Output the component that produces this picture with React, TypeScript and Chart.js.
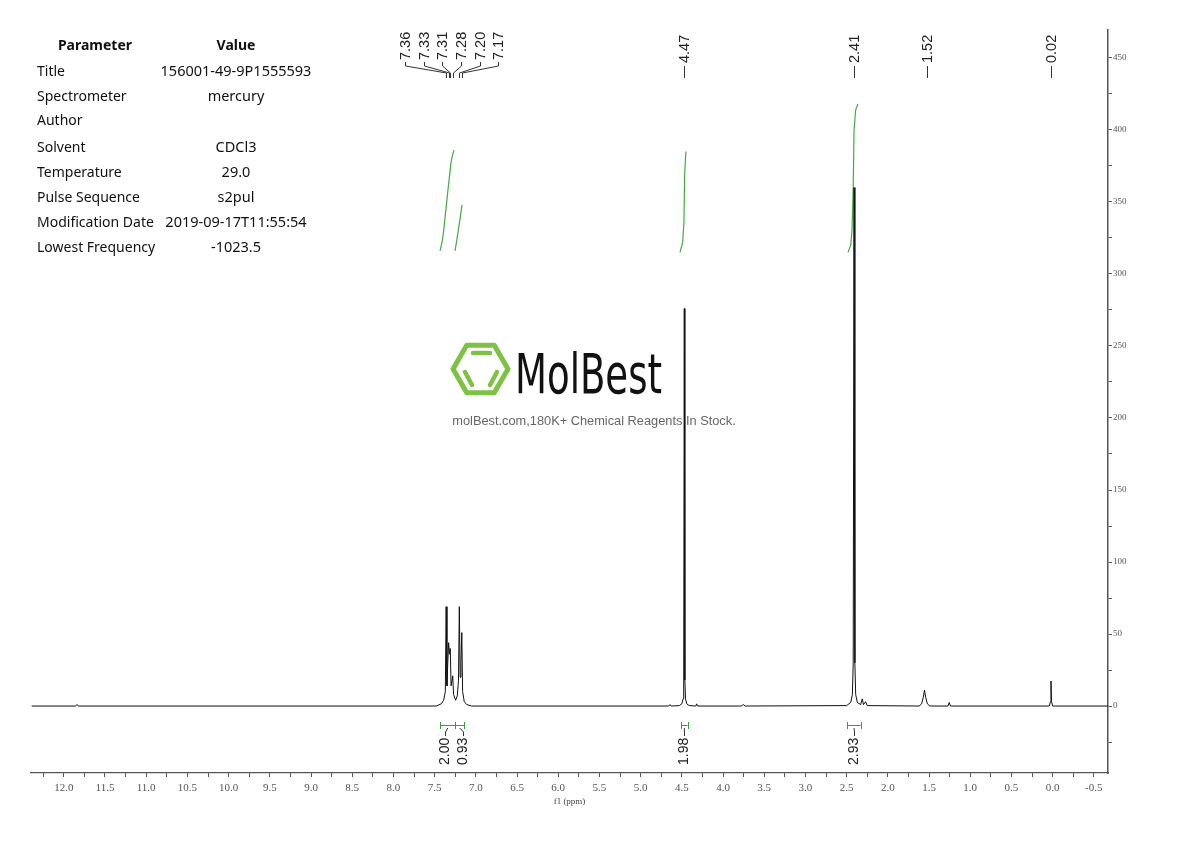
import React, { useEffect, useRef } from "react";
import { Chart, registerables } from "chart.js";

Chart.register(...registerables);

// ---------- data ----------
const spectrumPpm = [
  12.39, 11.86, 11.84, 11.82,
  7.48, 7.42, 7.39, 7.37, 7.36, 7.35, 7.34, 7.33, 7.32, 7.31, 7.3, 7.28, 7.27, 7.245, 7.225, 7.21, 7.2, 7.19, 7.18, 7.17, 7.16, 7.14, 7.11, 7.05,
  4.66, 4.645, 4.63,
  4.53, 4.5, 4.485, 4.477, 4.47, 4.463, 4.455, 4.44, 4.41,
  4.33, 4.32, 4.31,
  3.78, 3.755, 3.73,
  2.5, 2.45, 2.43, 2.42, 2.41, 2.4, 2.39, 2.37, 2.33, 2.31, 2.295, 2.27, 2.25,
  1.62, 1.59, 1.57, 1.555, 1.54, 1.52, 1.49,
  1.27, 1.255, 1.24,
  0.04, 0.027, 0.02, 0.013, 0.0,
  -0.672,
];
const spectrumIntensity = [
  0, 0, 1, 0,
  0, 1.5, 4, 10, 69, 14, 30, 44, 36, 40, 14, 21, 8, 4, 7, 18, 69, 20, 30, 51, 10, 3, 1, 0,
  0, 1, 0,
  0.3, 1.5, 5, 18, 276, 18, 5, 1.5, 0.3,
  0, 1.5, 0,
  0, 1, 0,
  0.3, 2.5, 8, 30, 360, 30, 8, 2.5, 1, 5, 1, 3, 0.3,
  0, 1.5, 6, 11, 6, 1.5, 0,
  0, 2.5, 0,
  0, 3, 17.4, 3, 0,
  0,
];

// integral curves (ppm, plotted height)
const integral1Ppm = [7.434, 7.41, 7.39, 7.35, 7.3, 7.28, 7.265];
const integral1Val = [316, 322, 330, 352, 378, 383, 386];
const integral2Ppm = [7.252, 7.235, 7.2, 7.18, 7.167];
const integral2Val = [316, 322, 335, 343, 348];
const integral3Ppm = [4.522, 4.49, 4.475, 4.465, 4.455, 4.449];
const integral3Val = [315, 322, 335, 370, 381, 385];
const integral4Ppm = [2.483, 2.45, 2.435, 2.42, 2.41, 2.39, 2.362];
const integral4Val = [315, 320, 330, 360, 400, 414, 418];

const integralFrom = [7.43, 7.25, 4.51, 2.49];
const integralTo = [7.25, 7.14, 4.43, 2.33];
const integralLabels = ["2.00", "0.93", "1.98", "2.93"];

const peakLabelValues = [7.36, 7.33, 7.31, 7.28, 7.2, 7.17, 4.47, 2.41, 1.52, 0.02];
const peakLabelTexts = ["7.36", "7.33", "7.31", "7.28", "7.20", "7.17", "4.47", "2.41", "1.52", "0.02"];

const xMin = -0.672;
const xMax = 12.398;
const yMin = -46.5;
const yMax = 469.4;

const paramNames = [
  "Title",
  "Spectrometer",
  "Author",
  "Solvent",
  "Temperature",
  "Pulse Sequence",
  "Modification Date",
  "Lowest Frequency",
];
const paramValues = [
  "156001-49-9P1555593",
  "mercury",
  "",
  "CDCl3",
  "29.0",
  "s2pul",
  "2019-09-17T11:55:54",
  "-1023.5",
];

const toPoints = (xs: number[], ys: number[]) => xs.map((x, i) => ({ x, y: ys[i] }));

function groupClose(px: number[], gap: number): number[][] {
  const groups: number[][] = [];
  px.forEach((p, i) => {
    const g = groups[groups.length - 1];
    if (g && Math.abs(px[g[g.length - 1]] - p) < gap) g.push(i);
    else groups.push([i]);
  });
  return groups;
}

function drawRot(ctx: CanvasRenderingContext2D, t: string, x: number, y: number) {
  ctx.save();
  ctx.translate(x, y);
  ctx.rotate(-Math.PI / 2);
  ctx.textAlign = "left";
  ctx.textBaseline = "middle";
  ctx.fillText(t, 0, 0);
  ctx.restore();
}

const annotPlugin = {
  id: "nmrAnnot",
  afterDraw(chart: any) {
    const ctx: CanvasRenderingContext2D = chart.ctx;
    const xs = chart.scales.x;
    ctx.save();
    // peak labels
    ctx.font = '14.5px "Liberation Sans", Arial, sans-serif';
    ctx.fillStyle = "#222";
    ctx.strokeStyle = "#333";
    ctx.lineWidth = 1;
    const px = peakLabelValues.map((v) => xs.getPixelForValue(v));
    groupClose(px, 20).forEach((g) => {
      const n = g.length;
      const centre = g.reduce((s, i) => s + px[i], 0) / n - 1.5;
      g.forEach((idx, k) => {
        const p = Math.round(px[idx]) + 0.5;
        if (n > 1) {
          const lx = Math.round(centre + (k - (n - 1) / 2) * 18.6) + 0.5;
          drawRot(ctx, peakLabelTexts[idx], lx, 60);
          ctx.beginPath();
          ctx.moveTo(lx, 62);
          ctx.lineTo(lx, 66);
          ctx.lineTo(p, 73);
          ctx.lineTo(p, 78);
          ctx.stroke();
        } else {
          drawRot(ctx, peakLabelTexts[idx], p, 63);
          ctx.beginPath();
          ctx.moveTo(p, 66);
          ctx.lineTo(p, 78);
          ctx.stroke();
        }
      });
    });

    // integration brackets and labels
    const x1 = integralFrom.map((v) => xs.getPixelForValue(v));
    const x2 = integralTo.map((v) => xs.getPixelForValue(v));
    const centres = x1.map((a, i) => (a + x2[i]) / 2);
    ctx.strokeStyle = "#3a9d3a";
    ctx.lineWidth = 1;
    x1.forEach((a, i) => {
      const b = x2[i];
      ctx.beginPath();
      ctx.moveTo(a, 725.5);
      ctx.lineTo(b, 725.5);
      ctx.moveTo(Math.round(a) + 0.5, 722);
      ctx.lineTo(Math.round(a) + 0.5, 729);
      ctx.moveTo(Math.round(b) + 0.5, 722);
      ctx.lineTo(Math.round(b) + 0.5, 729);
      ctx.stroke();
    });
    ctx.font = '14px "Liberation Sans", Arial, sans-serif';
    ctx.fillStyle = "#222";
    ctx.strokeStyle = "#333";
    groupClose(centres, 22).forEach((g) => {
      const n = g.length;
      const centre = g.reduce((s, i) => s + centres[i], 0) / n;
      g.forEach((idx, k) => {
        const c = centres[idx];
        const lx = Math.round(n > 1 ? centre + (k - (n - 1) / 2) * 18 : c) + 0.5;
        ctx.beginPath();
        ctx.moveTo(c, 728);
        ctx.lineTo(lx, 732);
        ctx.lineTo(lx, 736);
        ctx.stroke();
        drawRot(ctx, integralLabels[idx], lx, 765);
      });
    });
    ctx.restore();
  },
};

export default function App() {
  const ref = useRef<HTMLCanvasElement | null>(null);

  useEffect(() => {
    if (!ref.current) return;
    const green = "#45a845";
    const lineDs = (data: any[], color: string, width: number) => ({
      data,
      showLine: true,
      borderColor: color,
      borderWidth: width,
      pointRadius: 0,
      tension: 0,
      fill: false,
    });
    const chart = new Chart(ref.current, {
      type: "scatter",
      data: {
        datasets: [
          lineDs(toPoints(spectrumPpm, spectrumIntensity), "#111", 1),
          lineDs(toPoints(integral1Ppm, integral1Val), green, 1.2),
          lineDs(toPoints(integral2Ppm, integral2Val), green, 1.2),
          lineDs(toPoints(integral3Ppm, integral3Val), green, 1.2),
          lineDs(toPoints(integral4Ppm, integral4Val), green, 1.2),
        ],
      },
      options: {
        animation: false,
        responsive: false,
        maintainAspectRatio: false,
        layout: { padding: { left: 31, top: 30, right: 0, bottom: 0 } },
        plugins: { legend: { display: false }, tooltip: { enabled: false } },
        scales: {
          x: {
            type: "linear",
            reverse: true,
            min: xMin,
            max: xMax,
            position: "bottom",
            afterFit: (s: any) => {
              s.height = 68;
            },
            grid: { drawOnChartArea: false, drawTicks: true, tickLength: 4, color: "#555" },
            border: { color: "#555", width: 1.2 },
            ticks: {
              stepSize: 0.25,
              maxTicksLimit: 1000,
              includeBounds: false,
              autoSkip: false,
              maxRotation: 0,
              padding: 5,
              color: "#555",
              font: { family: '"Liberation Serif", serif', size: 11 },
              callback: (v: any) => {
                const n = Number(v);
                return Math.abs(n * 2 - Math.round(n * 2)) < 1e-6 ? n.toFixed(1) : "";
              },
            },
            title: {
              display: true,
              text: "f1 (ppm)",
              color: "#444",
              font: { family: '"Liberation Serif", serif', size: 9 },
              padding: { top: 0, bottom: 34 },
            },
          },
          y: {
            type: "linear",
            position: "right",
            min: yMin,
            max: yMax,
            afterFit: (s: any) => {
              s.width = 82;
            },
            grid: { drawOnChartArea: false, drawTicks: true, tickLength: 4, color: "#555" },
            border: { color: "#555", width: 1.5 },
            ticks: {
              stepSize: 25,
              maxTicksLimit: 1000,
              includeBounds: false,
              autoSkip: false,
              padding: 1,
              color: "#555",
              font: { family: '"Liberation Serif", serif', size: 9 },
              callback: (v: any) => {
                const n = Number(v);
                return Math.abs(n % 50) < 1e-6 ? String(Math.round(n)) : "";
              },
            },
          },
        },
      },
      plugins: [annotPlugin],
    } as any);
    return () => chart.destroy();
  }, []);

  const font = '"Noto Sans", "Open Sans", sans-serif';
  const rowStyle = (top: number): React.CSSProperties => ({
    position: "absolute",
    left: 0,
    top,
    width: 400,
    height: 22,
    display: "flex",
    alignItems: "baseline",
    fontFamily: font,
    color: "#111",
    whiteSpace: "nowrap",
    lineHeight: "22px",
  });

  return (
    <div style={{ position: "fixed", left: 0, top: 0, width: 1190, height: 841, background: "#fff", overflow: "hidden" }}>
      <canvas ref={ref} width={1190} height={841} style={{ display: "block", position: "absolute", left: 0, top: 0 }} />
      {/* parameter table */}
      <div style={{ ...rowStyle(34), fontWeight: 700, fontSize: 14 }}>
        <span style={{ width: 190, textAlign: "center", display: "inline-block" }}>Parameter</span>
        <span style={{ width: 92, display: "inline-block", textAlign: "center" }}>Value</span>
      </div>
      {paramNames.map((n, i) => (
        <div key={n} style={rowStyle(59 + i * 25.2)}>
          <span style={{ marginLeft: 37, width: 99, display: "inline-block", fontSize: 14, overflow: "visible" }}>{n}</span>
          <span style={{ width: 200, display: "inline-block", textAlign: "center", fontSize: 14.5 }}>{paramValues[i]}</span>
        </div>
      ))}
      {/* watermark logo */}
      <svg width={240} height={80} style={{ position: "absolute", left: 440, top: 330 }}>
        <polygon
          points="13,39 26.75,15.2 54.25,15.2 68,39 54.25,62.8 26.75,62.8"
          fill="none"
          stroke="#7dc242"
          strokeWidth={5}
          strokeLinejoin="round"
        />
        <line x1={33} y1={23} x2={50} y2={23} stroke="#7dc242" strokeWidth={4.5} strokeLinecap="round" />
        <line x1={25} y1={42} x2={32} y2={55} stroke="#7dc242" strokeWidth={4.5} strokeLinecap="round" />
        <line x1={57} y1={42} x2={50} y2={55} stroke="#7dc242" strokeWidth={4.5} strokeLinecap="round" />
        <text
          x={75}
          y={63}
          fontFamily='"DejaVu Sans Condensed", "DejaVu Sans", sans-serif'
          fontSize={55}
          textLength={147}
          lengthAdjust="spacingAndGlyphs"
          fill="#111"
        >
          MolBest
        </text>
      </svg>
      <div
        style={{
          position: "absolute",
          left: 394,
          width: 400,
          top: 412,
          textAlign: "center",
          fontFamily: '"Liberation Sans", Arial, sans-serif',
          fontSize: 12.8,
          lineHeight: "18px",
          color: "#666",
          whiteSpace: "nowrap",
        }}
      >
        molBest.com,180K+ Chemical Reagents In Stock.
      </div>
    </div>
  );
}
